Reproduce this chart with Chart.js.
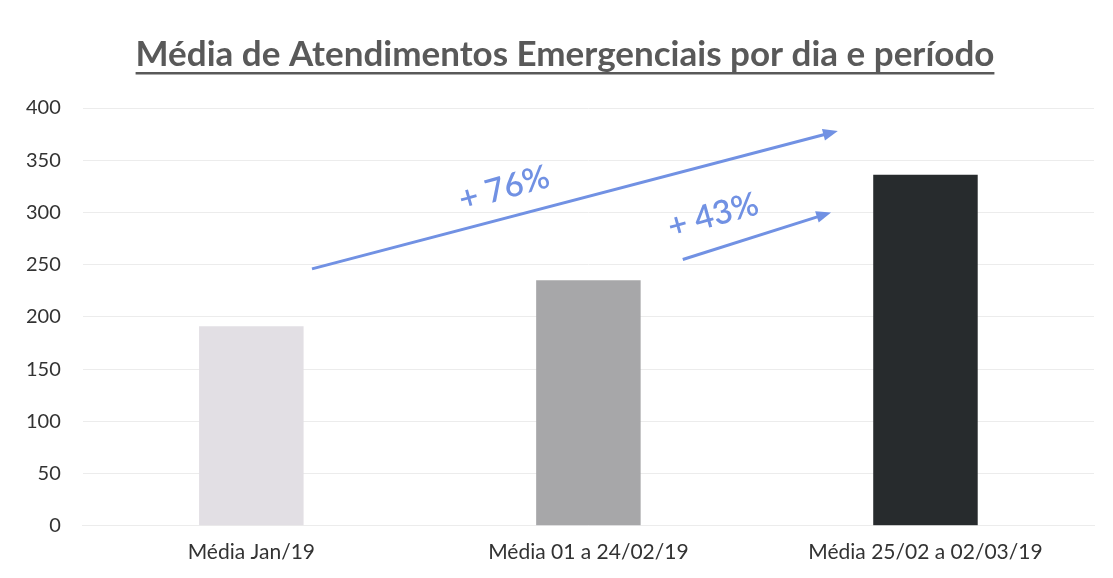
<!DOCTYPE html>
<html>
<head>
<meta charset="utf-8">
<script src="https://cdn.jsdelivr.net/npm/chart.js@4"></script>
<style>
  html, body { margin: 0; padding: 0; background: #fff; }
  #wrap { width: 1113px; height: 578px; position: relative; }
</style>
</head>
<body>
<div id="wrap"><canvas id="chart"></canvas></div>
<script>
// Chart data
const chartTitle = 'Média de Atendimentos Emergenciais por dia e período';
const categories = ['Média Jan/19', 'Média 01 a 24/02/19', 'Média 25/02 a 02/03/19'];
const values = [191, 235, 336];
const barColors = ['#e2dfe4', '#a7a7a9', '#272b2d'];

// Growth arrows, in data units (x = category index, y = value)
const arrowStarts = [[0.18, 246], [1.28, 255]];
const arrowEnds = [[1.74, 378], [1.72, 300]];
const arrowLabels = ['+ 76%', '+ 43%'];
const labelSpots = [[0.75, 323], [1.37, 297]];

const fontFamily = 'Lato, "Open Sans", sans-serif';
const arrowColor = '#7191e3';

// Title with underline
const titlePlugin = {
    id: 'underlinedTitle',
    afterDraw(chart) {
        const ctx = chart.ctx;
        ctx.save();
        ctx.font = 'bold 35px ' + fontFamily;
        ctx.fillStyle = '#595959';
        ctx.textAlign = 'center';
        ctx.textBaseline = 'alphabetic';
        const cx = 565;
        ctx.fillText(chartTitle, cx, 66);
        const w = ctx.measureText(chartTitle).width;
        ctx.fillRect(cx - w / 2, 72, w, 2.5);
        ctx.restore();
    }
};

// Arrows and percentage labels
const arrowPlugin = {
    id: 'growthArrows',
    afterDatasetsDraw(chart) {
        const ctx = chart.ctx;
        const xs = chart.scales.x, ys = chart.scales.y;
        const px = v => xs.getPixelForValue(0) + v * (xs.getPixelForValue(1) - xs.getPixelForValue(0));
        ctx.save();
        ctx.strokeStyle = arrowColor;
        ctx.fillStyle = arrowColor;
        ctx.lineWidth = 3;
        arrowStarts.forEach((s, i) => {
            const x1 = px(s[0]), y1 = ys.getPixelForValue(s[1]);
            const x2 = px(arrowEnds[i][0]), y2 = ys.getPixelForValue(arrowEnds[i][1]);
            const ang = Math.atan2(y2 - y1, x2 - x1);
            const head = 16;
            ctx.beginPath();
            ctx.moveTo(x1, y1);
            ctx.lineTo(x2 - Math.cos(ang) * head * 0.8, y2 - Math.sin(ang) * head * 0.8);
            ctx.stroke();
            ctx.beginPath();
            ctx.moveTo(x2, y2);
            ctx.lineTo(x2 - head * Math.cos(ang - 0.38), y2 - head * Math.sin(ang - 0.38));
            ctx.lineTo(x2 - head * Math.cos(ang + 0.38), y2 - head * Math.sin(ang + 0.38));
            ctx.closePath();
            ctx.fill();

            const lx = px(labelSpots[i][0]), ly = ys.getPixelForValue(labelSpots[i][1]);
            ctx.save();
            ctx.translate(lx, ly);
            ctx.rotate(-0.27);
            ctx.font = '600 33px ' + fontFamily;
            ctx.textAlign = 'center';
            ctx.textBaseline = 'middle';
            ctx.fillText(arrowLabels[i], 0, 0);
            ctx.restore();
        });
        ctx.restore();
    }
};

new Chart(document.getElementById('chart').getContext('2d'), {
    type: 'bar',
    data: {
        labels: categories,
        datasets: [{
            data: values,
            backgroundColor: barColors,
            borderWidth: 0,
            barPercentage: 0.31,
            categoryPercentage: 1
        }]
    },
    options: {
        responsive: true,
        maintainAspectRatio: false,
        animation: false,
        layout: { padding: { top: 108, left: 4, right: 19, bottom: 0 } },
        plugins: {
            legend: { display: false },
            tooltip: { enabled: false }
        },
        scales: {
            y: {
                min: 0,
                max: 400,
                ticks: {
                    stepSize: 50,
                    color: '#333',
                    padding: 22,
                    font: { family: fontFamily, size: 20 }
                },
                grid: { color: '#ececec', drawTicks: false },
                border: { display: false }
            },
            x: {
                ticks: {
                    color: '#333',
                    padding: 13.5,
                    font: { family: fontFamily, size: 21 }
                },
                grid: { display: false, drawTicks: false },
                border: { display: true, color: '#ececec' }
            }
        }
    },
    plugins: [titlePlugin, arrowPlugin]
});
</script>
</body>
</html>
